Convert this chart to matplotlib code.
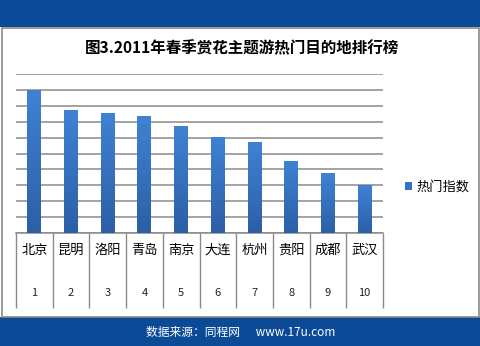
import matplotlib
matplotlib.use("Agg")
import matplotlib.pyplot as plt
import numpy as np
from matplotlib.patches import Rectangle
from matplotlib.colors import LinearSegmentedColormap

plt.rcParams['font.family'] = ['Noto Sans CJK SC', 'DejaVu Sans']

cities = ["北京", "昆明", "洛阳", "青岛", "南京", "大连", "杭州", "贵阳", "成都", "武汉"]
ranks = ["1", "2", "3", "4", "5", "6", "7", "8", "9", "10"]
values = [9.0, 7.74, 7.55, 7.36, 6.73, 6.04, 5.72, 4.53, 3.77, 3.0]
series_name = "热门指数"
title = "图3.2011年春季赏花主题游热门目的地排行榜"
source = "数据来源：同程网      www.17u.com"

W, H = 480, 346
fig = plt.figure(figsize=(W / 100, H / 100), dpi=100)
fig.patch.set_facecolor("white")

band = "#0B4A96"
# top & bottom bands, border
fig.add_artist(Rectangle((0, 1 - 27 / H), 1, 27 / H, transform=fig.transFigure,
                         facecolor=band, edgecolor="none", zorder=0))
fig.add_artist(Rectangle((0, 0), 1, 29 / H, transform=fig.transFigure,
                         facecolor=band, edgecolor="none", zorder=0))
fig.add_artist(Rectangle((1.5 / W, 29 / H), 1 - 3 / W, 1 - 56.5 / H, transform=fig.transFigure,
                         facecolor="none", edgecolor="#8a8a8a", linewidth=1.2, zorder=1))

ax = fig.add_axes([16 / W, 1 - 233 / H, (383 - 16) / W, (233 - 74) / H])
x = np.arange(len(cities))
bars = ax.bar(x, values, width=0.38, color="#3672C4", zorder=3, label=series_name)

cmap = LinearSegmentedColormap.from_list("g", ["#2C5FA6", "#3F82D4"])
grad = np.linspace(0, 1, 256).reshape(-1, 1)
for b in bars:
    b.set_facecolor("none")
    x0, y0 = b.get_x(), b.get_y()
    im = ax.imshow(grad, extent=(x0, x0 + b.get_width(), y0, y0 + b.get_height()),
                   origin="lower", cmap=cmap, aspect="auto", zorder=3)
    im.set_clip_path(b)

ax.set_xlim(-0.5, len(cities) - 0.5)
ax.set_ylim(0, 10)
ax.set_yticks(np.arange(0, 11, 1))
ax.yaxis.grid(True, color="#8a8a8a", linewidth=1.1)
ax.set_axisbelow(True)
ax.tick_params(axis="y", left=False, labelleft=False)
for s in ["left", "right", "top"]:
    ax.spines[s].set_visible(False)
ax.spines["bottom"].set_color("#8a8a8a")
ax.spines["bottom"].set_linewidth(1.1)

ax.set_xticks(x)
ax.set_xticklabels(cities, fontsize=9.5)
ax.tick_params(axis="x", which="major", length=0, pad=8)
ax.set_xticks(np.arange(-0.5, len(cities), 1), minor=True)
ax.tick_params(axis="x", which="minor", length=54, width=1.0, color="#8a8a8a", direction="out")

for i, r in enumerate(ranks):
    ax.text(i, -60 / 15.9, r, ha="center", va="center", fontsize=8, color="#222222",
            clip_on=False, transform=ax.transData)

ax.set_xlim(-0.5, len(cities) - 0.5)
ax.set_ylim(0, 10)

leg = fig.legend(handles=[bars], labels=[series_name], loc="center left",
                 bbox_to_anchor=(393 / W, 1 - 187 / H), frameon=False, fontsize=9.5,
                 handlelength=0.55, handleheight=0.55, handletextpad=0.3)
leg.legend_handles[0].set_facecolor("#3672C4")

fig.text(242 / W, 1 - 48 / H, title, ha="center", va="center", fontsize=11.2,
         fontweight="bold", color="black")
fig.text(241 / W, 1 - 332 / H, source, ha="center", va="center", fontsize=8.5,
         color="white")

fig.savefig("out.png", dpi=100)
